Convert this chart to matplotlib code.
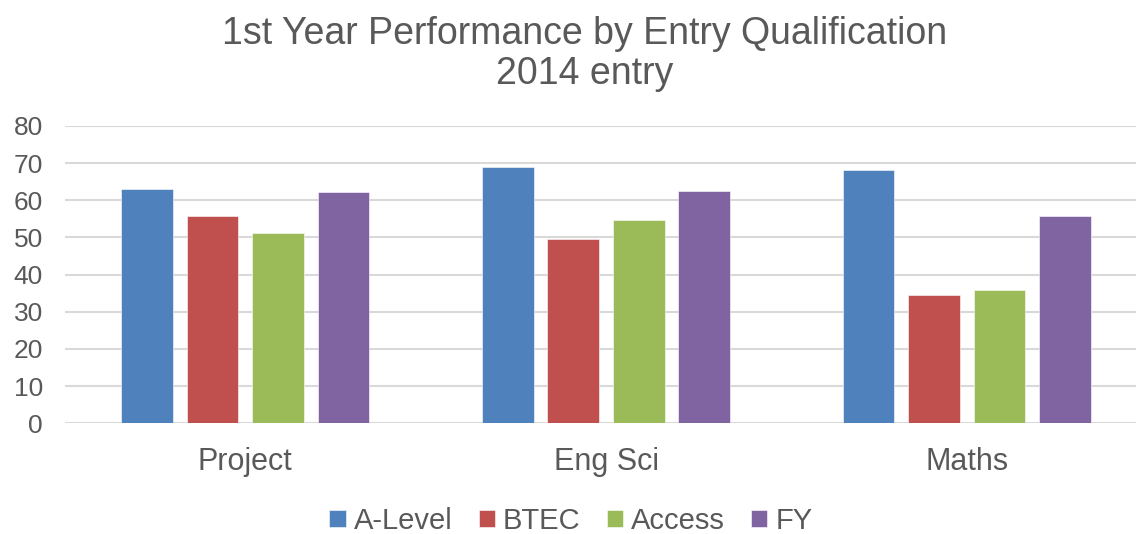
#! /usr/bin/env python3

import numpy as np
import matplotlib.pyplot as plt

plt.rcParams["font.family"] = ["Liberation Sans", "DejaVu Sans"]

subjects = ["Project", "Eng Sci", "Maths"]
qualifications = ["A-Level", "BTEC", "Access", "FY"]

a_level = [63.0, 68.9, 68.2]
btec = [55.7, 49.7, 34.4]
access = [51.3, 54.7, 35.9]
fy = [62.3, 62.5, 55.7]

colours = ["#4F81BD", "#C0504D", "#9BBB59", "#8064A2"]
grey = "#595959"

fig = plt.figure(figsize=(11.36, 5.34), dpi=100)
ax = fig.add_axes([65 / 1136, 1 - 423.3 / 534, 1082 / 1136, (423.3 - 126) / 534])

x = np.arange(len(subjects))
step = 0.1816
width = 0.143
for i, (name, values) in enumerate(zip(qualifications, (a_level, btec, access, fy))):
    ax.bar(x + (i - 1.5) * step, values, width, color=colours[i], label=name,
           edgecolor="white", linewidth=0.4, zorder=3)

ax.set_xlim(-0.5, 2.5)
ax.set_ylim(0, 80)
ax.set_yticks(range(0, 81, 10))
ax.set_xticks(x)
ax.set_xticklabels(subjects)
ax.grid(axis="y", color="#D9D9D9", linewidth=1.5, zorder=0)
for s in ax.spines.values():
    s.set_visible(False)
ax.tick_params(length=0, labelsize=19, colors=grey)
ax.tick_params(axis="x", labelsize=22, pad=17)
ax.tick_params(axis="y", pad=16)

fig.text(585 / 1136, 1 - 54 / 534, "1st Year Performance by Entry Qualification\n2014 entry",
         ha="center", va="center", fontsize=27, color=grey, linespacing=1.12)

leg = fig.legend(loc="center", bbox_to_anchor=(571 / 1136, 1 - 521 / 534), ncol=4,
                 frameon=False, fontsize=21, handlelength=0.55, handleheight=0.55,
                 handletextpad=0.28, columnspacing=0.9, borderaxespad=0)
for t in leg.get_texts():
    t.set_color(grey)

fig.savefig("out.png", dpi=100)
